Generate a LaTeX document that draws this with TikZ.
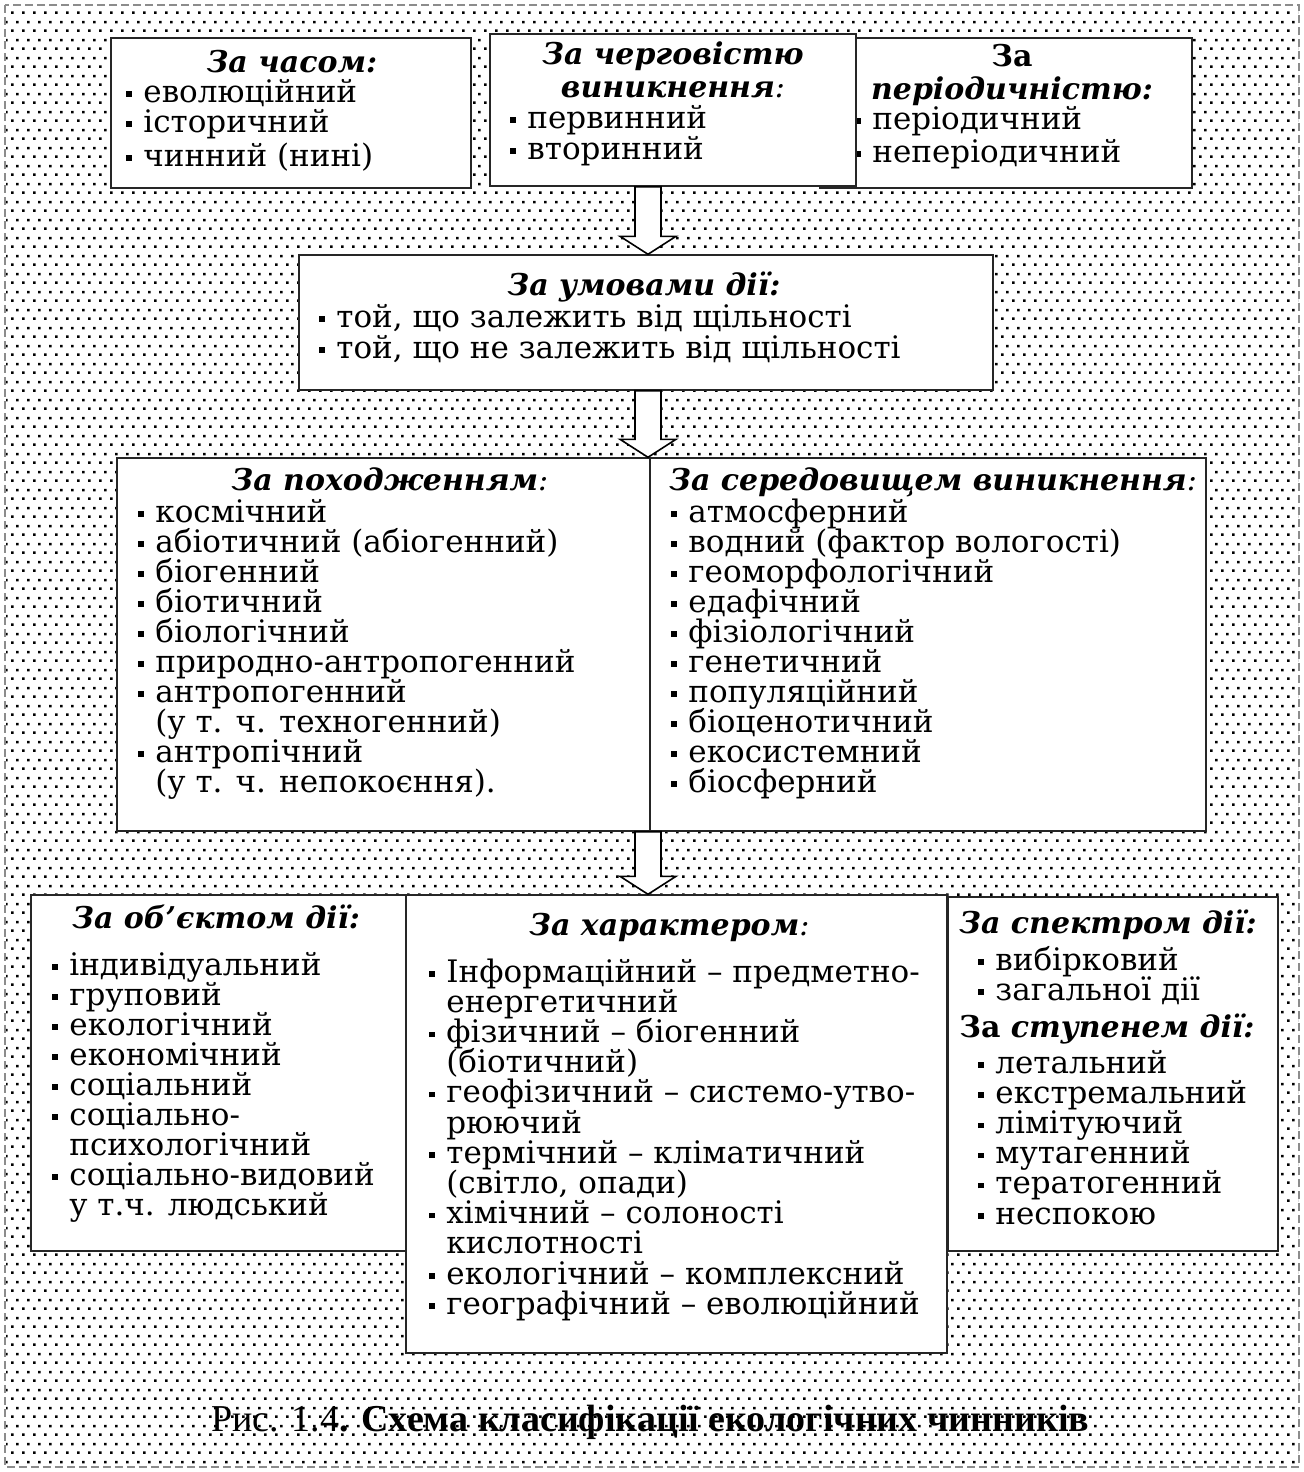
\documentclass[tikz,border=0pt]{standalone}
\usepackage{fontspec}
\setmainfont{DejaVu Serif}
\newfontfamily\capfont{Liberation Serif}
\usetikzlibrary{patterns,fit,calc}

\pgfdeclarepatternformonly{mydots}{\pgfqpoint{0pt}{0pt}}{\pgfqpoint{5.5pt}{9pt}}{\pgfqpoint{5.5pt}{9pt}}{%
  \pgfpathrectangle{\pgfqpoint{0pt}{0pt}}{\pgfqpoint{1.4pt}{1.4pt}}%
  \pgfpathrectangle{\pgfqpoint{2.75pt}{4.5pt}}{\pgfqpoint{1.4pt}{1.4pt}}%
  \pgfusepath{fill}}

\newcommand\bul{\makebox[8.5pt][l]{\rule[2.7pt]{2.7pt}{2.7pt}}}
\newcommand\cont{\hspace*{8.5pt}}
\newcommand\bodyf{\fontsize{15.5pt}{15.5pt}\selectfont}
\newcommand\titf{\fontsize{15pt}{15pt}\selectfont\bfseries\itshape}
\newcommand\mdc{{\mdseries:}}

\newcommand\blockarrow[2]{%
  \draw[barrow] ($(#1)+(-13,0)$) -- ($(#2)+(-13,-18)$) -- ($(#2)+(-28,-18)$) -- (#2)
    -- ($(#2)+(28,-18)$) -- ($(#2)+(13,-18)$) -- ($(#1)+(13,0)$) -- cycle;}

\begin{document}
\begin{tikzpicture}[x=0.5pt,y=-0.5pt,
  box/.style={draw=black!85, line width=0.7pt, fill=white, inner sep=0pt},
  itm/.style={anchor=base west, inner sep=0pt, font=\bodyf},
  ttl/.style={anchor=base, inner sep=0pt, font=\titf},
  ttlw/.style={anchor=base west, inner sep=0pt, font=\titf},
  barrow/.style={draw=black, line width=0.8pt, fill=white, line join=miter}]

\useasboundingbox (0,0) rectangle (1304,1472);
\fill[white] (0,0) rectangle (1304,1472);
\fill[pattern=mydots] (6,6) rectangle (1298,1466);
\draw[black!45, line width=0.6pt, dash pattern=on 4pt off 2pt] (5,5) rectangle (1299,1467);

% --- top row ---
\node[box, fit={(111,38)(471,188)}] (b1) {};
\node[ttl] (b1t) at (292,72) {За часом:};
\node[itm] (b1i1) at (126,102) {\bul еволюційний};
\node[itm] (b1i2) at (126,132) {\bul історичний};
\node[itm] (b1i3) at (126,166) {\bul чинний (нині)};

\node[box, fit={(820,38)(1192,188)}] (b3) {};
\node[ttl] (b3t1) at (1012,66) {\upshape За};
\node[ttl] (b3t2) at (1012,99) {періодичністю:};
\node[itm] (b3i1) at (855,129) {\bul періодичний};
\node[itm] (b3i2) at (855,162) {\bul неперіодичний};

\node[box, fit={(490,34)(856,186)}] (b2) {};
\node[ttl] (b2t1) at (673,64) {За черговістю};
\node[ttl] (b2t2) at (673,97) {виникнення\mdc};
\node[itm] (b2i1) at (510,128) {\bul первинний};
\node[itm] (b2i2) at (510,159) {\bul вторинний};

% --- middle ---
\node[box, fit={(299,255)(993,390)}] (b4) {};
\node[ttl] (b4t) at (644,295) {За умовами дії:};
\node[itm] (b4i1) at (319,327) {\bul той, що залежить від щільності};
\node[itm] (b4i2) at (319,358) {\bul той, що не залежить від щільності};

\node[box, fit={(117,458)(650,831)}] (b5) {};
\node[ttl] (b5t) at (390,490) {За походженням\mdc};
\foreach \t [count=\i from 0] in {\bul космічний, \bul абіотичний (абіогенний),
  \bul біогенний, \bul біотичний, \bul біологічний, \bul природно-антропогенний,
  \bul антропогенний, \cont(у т. ч. техногенний), \bul антропічний,
  \cont(у т. ч. непокоєння).}
  \node[itm] (b5i\i) at (138,{522+30*\i}) {\t};

\node[box, fit={(650,458)(1206,831)}] (b6) {};
\node[ttlw] (b6t) at (669,490) {За середовищем виникнення\mdc};
\foreach \t [count=\i from 0] in {атмосферний, водний (фактор вологості),
  геоморфологічний, едафічний, фізіологічний, генетичний, популяційний,
  біоценотичний, екосистемний, біосферний}
  \node[itm] (b6i\i) at (671,{522+30*\i}) {\bul\t};

% --- bottom row ---
\node[box, fit={(31,895)(407,1251)}] (b7) {};
\node[ttlw] (b7t) at (72,928) {За об'єктом дії:};
\foreach \t [count=\i from 0] in {\bul індивідуальний, \bul груповий,
  \bul екологічний, \bul економічний, \bul соціальний, \bul соціально-,
  \cont психологічний, \bul соціально-видовий, \cont у т.ч. людський}
  \node[itm] (b7i\i) at (52,{975+30*\i}) {\t};

\node[box, fit={(948,897)(1278,1251)}] (b9) {};
\node[ttlw] (b9t1) at (959,933) {За спектром дії:};
\node[itm] (b9i1) at (978,970) {\bul вибірковий};
\node[itm] (b9i2) at (978,1000) {\bul загальної дії};
\node[ttlw] (b9t2) at (959,1037) {\upshape За \itshape ступенем дії:};
\foreach \t [count=\i from 0] in {летальний, екстремальний, лімітуючий,
  мутагенний, тератогенний, неспокою}
  \node[itm] (b9j\i) at (978,{1073+30.2*\i}) {\bul\t};

\node[box, fit={(406,895)(947,1353)}] (b8) {};
\node[ttlw] (b8t) at (529,935) {За характером\mdc};
\foreach \t [count=\i from 0] in {\bul Інформаційний – предметно-, \cont енергетичний,
  \bul фізичний – біогенний, \cont(біотичний), \bul геофізичний – системо-утво-,
  \cont рюючий, \bul термічний – кліматичний, {\cont(світло, опади)},
  \bul хімічний – солоності, \cont кислотності, \bul екологічний – комплексний,
  \bul географічний – еволюційний}
  \node[itm] (b8i\i) at (429,{982+30.2*\i}) {\t};

% --- block arrows ---
\coordinate (ax) at (648,0);
\coordinate (a1s) at (ax |- b2.south);
\coordinate (a1e) at (ax |- b4.north);
\coordinate (a2s) at (ax |- b4.south);
\coordinate (a2e) at (ax |- b5.north);
\coordinate (a3s) at (ax |- b5.south);
\coordinate (a3e) at (ax |- b8.north);
\blockarrow{a1s}{a1e}
\blockarrow{a2s}{a2e}
\blockarrow{a3s}{a3e}

% --- caption ---
\node[anchor=base west, inner sep=0pt, font=\capfont\fontsize{19pt}{19pt}\selectfont] (cap)
  at (211,1431) {Рис. 1.4\textbf{. Схема класифікації екологічних чинників}};
\end{tikzpicture}
\end{document}
